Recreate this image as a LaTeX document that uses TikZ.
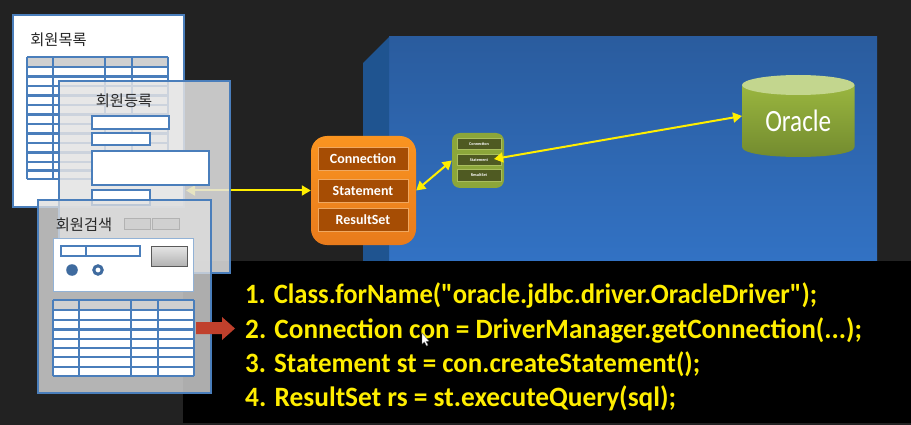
\documentclass[tikz,border=0pt]{standalone}
\usepackage{fontspec}
\usepackage{graphicx}
\setmainfont{Carlito}
\newfontfamily\codefont{Carlito}
\newfontfamily\krfont{Noto Sans CJK KR}
\usetikzlibrary{arrows.meta}
\definecolor{bgdark}{HTML}{222222}
\definecolor{wire}{HTML}{4A7EBB}
\definecolor{hdr}{HTML}{D0D0D0}
\definecolor{ylw}{HTML}{FFEE00}
\definecolor{walltop}{HTML}{2A5C9E}
\definecolor{wallbot}{HTML}{3272C4}
\definecolor{wallside}{HTML}{1F5490}
\definecolor{orangetop}{HTML}{FA9420}
\definecolor{orangebot}{HTML}{E87B1C}
\definecolor{cellorange}{HTML}{A64D04}
\definecolor{cellline}{HTML}{F0A860}
\definecolor{greenfill}{HTML}{8CA63A}
\definecolor{greencellc}{HTML}{4F5A22}
\definecolor{greenline}{HTML}{A9BE5E}
\definecolor{cyltop}{HTML}{9AB63F}
\definecolor{cylbot}{HTML}{71892E}
\definecolor{cyllid}{HTML}{C3D68E}
\definecolor{redarrow}{HTML}{C0402C}
\tikzset{
  wframe/.style={draw=wire,line width=2.9pt},
  field/.style={draw=wire,line width=2.9pt,fill=white},
  krlabel/.style={font=\krfont\fontsize{15.3}{15.3}\selectfont,text=black!85,inner sep=0pt},
  yarrow/.style={draw=ylw,fill=ylw,line width=2pt,{Triangle[length=9pt,width=10pt]}-{Triangle[length=9pt,width=10pt]}},
  orangebox/.style={rounded corners=16pt,top color=orangetop,bottom color=orangebot,minimum width=105pt,minimum height=109pt,inner sep=0pt},
  orangecell/.style={draw=cellline,line width=.8pt,fill=cellorange,text=white,minimum width=90pt,minimum height=23pt,inner sep=0pt,font=\bfseries\fontsize{14}{14}\selectfont},
  greenbox/.style={rounded corners=8pt,fill=greenfill,minimum width=52pt,minimum height=55pt,inner sep=0pt},
  greencell/.style={draw=greenline,line width=.6pt,fill=greencellc,text=white,minimum width=44pt,minimum height=11.5pt,inner sep=0pt,font=\bfseries\fontsize{4.2}{4.2}\selectfont},
  codeline/.style={anchor=base west,inner sep=0pt,text=ylw,font=\codefont\bfseries\fontsize{28}{28}\selectfont},
  dbshape/.style={minimum width=112pt,minimum height=82pt,inner sep=0pt},
  dbtext/.style={inner sep=0pt,text=white,font=\fontsize{31}{31}\selectfont},
}
\begin{document}
\begin{tikzpicture}[x=1pt,y=-1pt]
\useasboundingbox (0,0) rectangle (911,425);
\fill[bgdark] (0,0) rectangle (911,425);
% wall
\shade[top color=walltop,bottom color=wallbot] (389,37) rectangle (877,262);
\fill[wallside] (363,63) -- (389,37) -- (389,262) -- (363,262) -- cycle;
% code panel
\fill[black] (183,261) rectangle (911,423);
% window 1
\draw[wframe,fill=white] (13,15) rectangle (184,207);
\node[krlabel] (t1) at (58.5,40) {회원목록};
\fill[white] (27,57) rectangle (168,179);
\fill[hdr] (27,57) rectangle (168,67);
\foreach \y in {57,67,76.5,86,95.5,105,114.5,124,133.5,143,152.5,162,170.5,179}
  \draw[wframe] (27,\y) -- (168,\y);
\foreach \x in {27,53,105,132,168}
  \draw[wframe] (\x,57) -- (\x,179);
% orange, green, database
\node[orangebox] (orangeb) at (363.5,190.5) {};
\node[orangecell] (oc) at (363,159) {Connection};
\node[orangecell] (os) at (363,190.5) {Statement};
\node[orangecell] (or) at (363,220) {ResultSet};
\node[greenbox] (greenb) at (478,160.5) {};
\node[greencell] (gc) at (479,144) {Connection};
\node[greencell] (gs) at (479,160) {Statement};
\node[greencell] (gr) at (479,175.5) {ResultSet};
\shade[top color=cyltop,bottom color=cylbot] (742,85) -- (742,147) .. controls (742,160.3) and (854.5,160.3) .. (854.5,147) -- (854.5,85) -- cycle;
\fill[cyllid] (798.25,85) ellipse [x radius=56.25,y radius=10];
\node[dbshape] (db) at (798.25,116) {};
\node[dbtext] (dbt) at (798.25,121) {\resizebox{66pt}{\height}{Oracle}};
\coordinate (formend) at (186,190.5);
\coordinate (gstat) at (494,159);
\draw[yarrow] (orangeb.east) -- (greenb.west);
\draw[yarrow] (gstat) -- (db.west);
\draw[yarrow] (formend) -- (orangeb.west);
% window 2
\draw[wframe,fill=hdr!60!white,fill opacity=.85] (59,81) rectangle (230,273);
\node[krlabel] (t2) at (124,101) {회원등록};
\draw[field] (92,116) rectangle (169,129);
\draw[field] (92,133) rectangle (150,145);
\draw[field] (92,151) rectangle (209,185);
\draw[field] (92,190) rectangle (150,205);
% window 3
\draw[wframe,fill=hdr!70!white,fill opacity=.78] (38,200) rectangle (211,393);
\node[krlabel] (t3) at (84,225) {회원검색};
\draw[fill=hdr,draw=black!30,line width=.8pt] (124,218) rectangle (150,229);
\draw[fill=hdr,draw=black!30,line width=.8pt] (152,218) rectangle (179,229);
\draw[fill=white,draw=wire!60!white,line width=1pt] (53,238) rectangle (193,291);
\draw[field] (61,246) rectangle (140,256);
\draw[wire,line width=2.9pt] (86,246) -- (86,256);
\shade[top color=black!10,bottom color=black!30,draw=black!65,line width=1pt] (151,246) rectangle (187,266);
\fill[wire!85!black] (72,270) circle [radius=5.8];
\draw[wire!85!black,line width=3pt,fill=white] (98,270) circle [radius=4.2];
\fill[white] (53,300) rectangle (194,376);
\fill[hdr] (53,300) rectangle (194,310);
\foreach \y in {300,310,320,329.5,339,348,357,367,376}
  \draw[wframe] (53,\y) -- (194,\y);
\foreach \x in {53,79,131,158,194}
  \draw[wframe] (\x,300) -- (\x,376);
% red arrow
\fill[redarrow] (196,322) -- (222,322) -- (222,317) -- (235,328.5) -- (222,340) -- (222,334) -- (196,334) -- cycle;
% code
\node[codeline] (c1) at (245,303.5) {\resizebox{572pt}{\height}{1. Class.forName("oracle.jdbc.driver.OracleDriver");}};
\node[codeline] (c2) at (245,338.5) {\resizebox{617pt}{\height}{2. Connection con = DriverManager.getConnection(...);}};
\node[codeline] (c3) at (245,372) {\resizebox{455pt}{\height}{3. Statement st = con.createStatement();}};
\node[codeline] (c4) at (245,406) {\resizebox{431pt}{\height}{4. ResultSet rs = st.executeQuery(sql);}};
% mouse pointer
\fill[white,draw=black!60,line width=.4pt] (422,333) -- (422,344) -- (424.5,342) -- (426.5,346) -- (428,345) -- (426,341.5) -- (429,341) -- cycle;
\end{tikzpicture}
\end{document}
